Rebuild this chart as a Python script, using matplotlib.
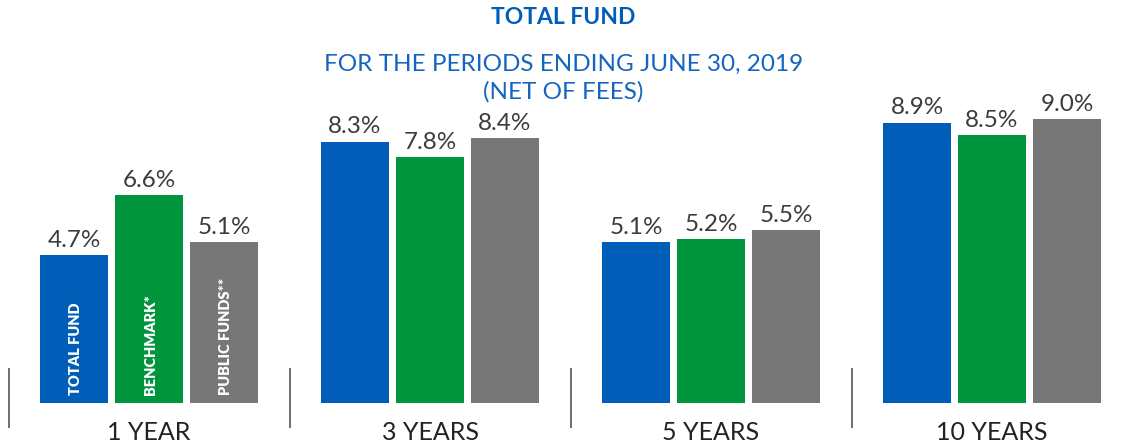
import matplotlib
matplotlib.use("Agg")
import matplotlib.pyplot as plt
import numpy as np

periods = ["1 YEAR", "3 YEARS", "5 YEARS", "10 YEARS"]
series = ["TOTAL FUND", "BENCHMARK*", "PUBLIC FUNDS**"]
total_fund = [4.7, 8.3, 5.1, 8.9]
benchmark = [6.6, 7.8, 5.2, 8.5]
public_funds = [5.1, 8.4, 5.5, 9.0]
colors = ["#005EB8", "#00953D", "#777778"]

plt.rcParams['font.family'] = ['Lato', 'DejaVu Sans']

fig = plt.figure(figsize=(11.27, 4.44), dpi=100)
ax = fig.add_axes([0, 41 / 444, 1, 403 / 444])

x = np.arange(len(periods))
width = 68 / 281
step = 75 / 281
for k, (vals, col) in enumerate(zip([total_fund, benchmark, public_funds], colors)):
    pos = x + (k - 1) * step
    bars = ax.bar(pos, vals, width=width, color=col)
    for b, v in zip(bars, vals):
        ax.annotate(f"{v:.1f}%", (b.get_x() + b.get_width() / 2, v),
                    xytext=(0, 3), textcoords="offset points",
                    ha="center", va="bottom", fontsize=17.5, color="#3c3c3c")
    # series name inside the first group's bar
    ax.annotate(series[k], (pos[0], 0), xytext=(1, 6), textcoords="offset points",
                rotation=90, ha="center", va="bottom", fontsize=10.5,
                color="white", fontweight="heavy")

# group labels and separators
for i, p in enumerate(periods):
    ax.annotate(p, (i, 0), xytext=(0, -13), textcoords="offset points",
                ha="center", va="top", fontsize=18, color="#222222",
                annotation_clip=False)
ax.vlines(np.arange(len(periods)) - 0.5, -0.79, 1.11, color="#555555",
          linewidth=1.2, clip_on=False)

ax.set_xlim(-149 / 281, (1127 - 149) / 281)
ax.set_ylim(0, 403 / 31.5)
ax.axis("off")

fig.text(0.5, 1 - 18 / 444, "TOTAL FUND", ha="center", va="center",
         fontsize=16.5, fontweight="bold", color="#005EB8")
fig.text(0.5, 1 - 78 / 444, "FOR THE PERIODS ENDING JUNE 30, 2019\n(NET OF FEES)",
         ha="center", va="center", fontsize=17.5, color="#1565C0",
         linespacing=1.35)

fig.savefig("out.png", dpi=100)
